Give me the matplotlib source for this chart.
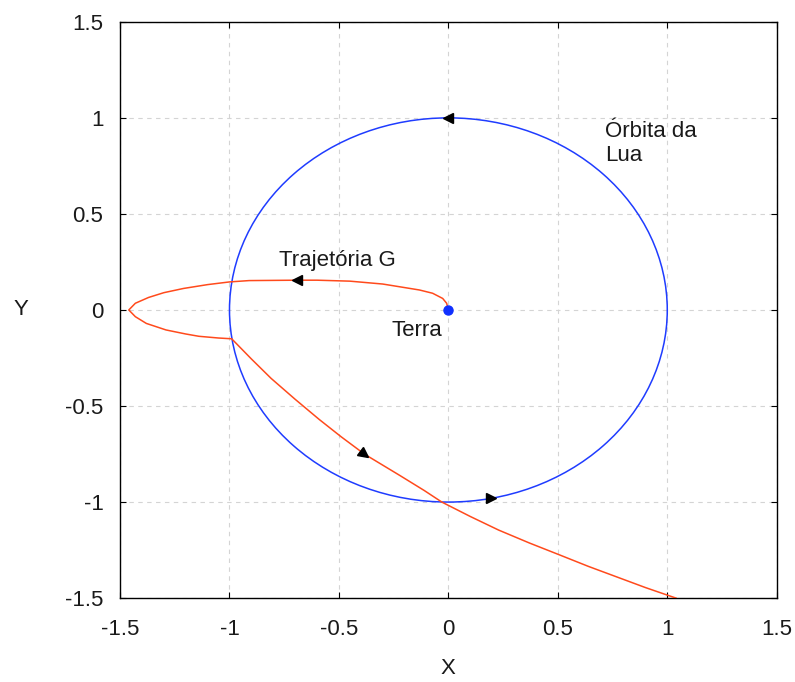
import matplotlib.pyplot as plt
from matplotlib.patches import Circle
from matplotlib.markers import MarkerStyle
from matplotlib.transforms import Affine2D

plt.rcParams['font.family'] = ['Liberation Sans', 'DejaVu Sans']

# órbita da Lua (raio normalizado) e posição da Terra
moon_radius = 1.0
earth_x, earth_y = 0.0, 0.0

# trajetória G (ida pela parte de cima, volta por baixo)
traj_x = [0.0, -0.008, -0.026, -0.072, -0.132, -0.224, -0.30, -0.45, -0.60,
          -0.69, -0.91, -1.0, -1.1, -1.21, -1.30, -1.37, -1.43, -1.46,
          -1.43, -1.38, -1.29, -1.20, -1.14, -1.05, -0.99,
          -0.90, -0.81, -0.70, -0.59, -0.49, -0.384, -0.224, -0.11, -0.03,
          0.10, 0.23, 0.37, 0.51, 0.64, 0.77, 0.90, 1.04]
traj_y = [0.0, 0.035, 0.06, 0.087, 0.104, 0.121, 0.135, 0.15, 0.155,
          0.155, 0.153, 0.146, 0.132, 0.112, 0.09, 0.065, 0.035, 0.0,
          -0.035, -0.07, -0.104, -0.125, -0.137, -0.146, -0.15,
          -0.255, -0.356, -0.465, -0.57, -0.66, -0.75, -0.86, -0.94, -1.0,
          -1.075, -1.146, -1.213, -1.276, -1.335, -1.39, -1.445, -1.5]

# setas de sentido: (x, y, ângulo em graus)
moon_arrows = [(0.0, 1.0, 180), (0.195, -0.981, 0)]
traj_arrows = [(-0.69, 0.155, 180), (-0.384, -0.75, -37)]

ticks = [-1.5, -1, -0.5, 0, 0.5, 1, 1.5]
tick_labels = ['-1.5', '-1', '-0.5', '0', '0.5', '1', '1.5']

fig = plt.figure(figsize=(7.95, 6.82), dpi=100)
ax = fig.add_axes([0.151, 0.123, 0.826, 0.845])

orbit = Circle((earth_x, earth_y), moon_radius, fill=False,
               edgecolor='#1f3cff', linewidth=1.1, zorder=3)
ax.add_patch(orbit)
ax.plot(traj_x, traj_y, color='#ff4a1c', linewidth=1.1, zorder=3)
ax.plot(earth_x, earth_y, 'o', color='#1030ff', markersize=6.5, zorder=4)

for x, y, ang in moon_arrows + traj_arrows:
    m = MarkerStyle('>', transform=Affine2D().rotate_deg(ang))
    ax.plot(x, y, marker=m, color='black', markersize=7, linestyle='none', zorder=5)

txt = dict(fontsize=16, color='#1a1a1a')
ax.text(-0.775, 0.23, 'Trajetória G', ha='left', va='baseline', **txt)
ax.text(-0.26, -0.135, 'Terra', ha='left', va='baseline', **txt)
ax.text(0.717, 0.985, 'Órbita da\nLua', ha='left', va='top', **txt)

ax.set_xlim(-1.5, 1.5)
ax.set_ylim(-1.5, 1.5)
ax.set_xticks(ticks)
ax.set_xticklabels(tick_labels)
ax.set_yticks(ticks)
ax.set_yticklabels(tick_labels)
ax.tick_params(direction='in', top=True, right=True, length=4,
               labelsize=16, labelcolor='#1a1a1a', pad=12)
ax.tick_params(axis='x', pad=15)
ax.grid(True, color='#d4d4d4', linestyle=(0, (4, 4)), linewidth=0.8)
ax.set_axisbelow(True)
for s in ax.spines.values():
    s.set_linewidth(1.0)

ax.set_xlabel('X', fontsize=16, color='#1a1a1a', labelpad=13)
ax.set_ylabel('Y', fontsize=16, color='#1a1a1a', rotation=0, labelpad=32, va='center')

fig.savefig('out.png', dpi=100)
